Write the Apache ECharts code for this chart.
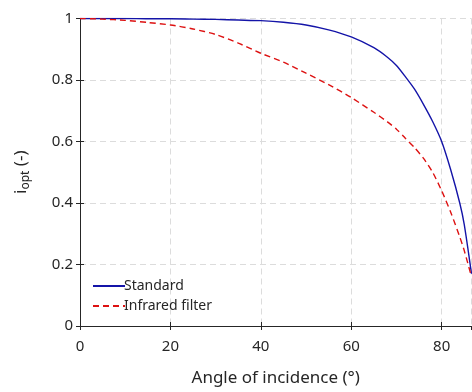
<!DOCTYPE html>
<html>
<head>
<meta charset="utf-8">
<script src="https://cdn.jsdelivr.net/npm/echarts@6/dist/echarts.min.js"></script>
<style>html,body{margin:0;padding:0;background:#fff}#c{width:472px;height:392px}</style>
</head>
<body>
<div id="c"></div>
<script>
var angles = [0,5,10,15,20,25,30,35,40,45,50,55,60,65,68,70,72,74,76,78,80,82,84,85,86.6];
var standardVals = [1,1,1,0.999,0.999,0.998,0.997,0.995,0.993,0.988,0.979,0.963,0.94,0.905,0.874,0.847,0.81,0.77,0.72,0.665,0.6,0.508,0.4,0.33,0.17];
var infraredVals = [1,0.998,0.994,0.987,0.979,0.966,0.948,0.92,0.887,0.858,0.822,0.785,0.743,0.695,0.664,0.64,0.61,0.58,0.545,0.5,0.44,0.37,0.29,0.245,0.16];
var xTicks = [0,20,40,60,80];
var yTicks = [0,0.2,0.4,0.6,0.8,1];
var seriesNames = ['Standard','Infrared filter'];

function pairs(xs, ys){ return xs.map(function(x,i){return [x, ys[i]];}); }

var FONT = 'Noto Sans';
var axisColor = '#262626';
var gridLine = {show:true, lineStyle:{color:'#dcdcdc', type:[6,4], width:1}};

var chart = echarts.init(document.getElementById('c'), null, {renderer:'canvas'});
chart.setOption({
  animation:false,
  backgroundColor:'#fff',
  textStyle:{fontFamily:FONT},
  grid:{left:80, right:0.5, top:18.5, bottom:66, containLabel:false},
  legend:{
    orient:'vertical', left:87, top:274, itemWidth:32, itemHeight:10, itemGap:6,
    itemStyle:{opacity:0},
    textStyle:{fontSize:14, color:axisColor, fontFamily:FONT, padding:[0,0,0,-6]},
    data:seriesNames
  },
  xAxis:[{
    type:'value', min:0, max:86.6, interval:20,
    name:'Angle of incidence (°)', nameLocation:'middle', nameGap:44,
    nameTextStyle:{fontSize:17, color:axisColor, fontFamily:FONT},
    axisLine:{show:true, lineStyle:{color:axisColor}},
    axisTick:{show:true, inside:true, length:4, lineStyle:{color:axisColor}},
    axisLabel:{fontSize:15, color:axisColor, margin:13, showMaxLabel:false,
      formatter:function(v){return xTicks.indexOf(v)>=0 ? String(v) : '';}},
    splitLine:gridLine
  },{
    type:'value', position:'top', min:0, max:86.6, interval:20,
    axisLine:{show:true, lineStyle:{color:axisColor}},
    axisTick:{show:true, inside:true, length:4, lineStyle:{color:axisColor}},
    axisLabel:{show:false}, splitLine:{show:false}
  }],
  yAxis:[{
    type:'value', min:0, max:1, interval:0.2,
    name:'{i|i}{s|opt}{i| (-)}', nameLocation:'middle', nameGap:48, nameRotate:90,
    nameTextStyle:{rich:{
      i:{fontSize:17, color:axisColor, fontFamily:FONT},
      s:{fontSize:12, color:axisColor, fontFamily:FONT, verticalAlign:'bottom', padding:[10,0,0,0]}
    }},
    axisLine:{show:true, lineStyle:{color:axisColor}},
    axisTick:{show:true, inside:true, length:4, lineStyle:{color:axisColor}},
    axisLabel:{fontSize:15, color:axisColor, margin:7,
      formatter:function(v){var r=Math.round(v*10)/10; return String(r);}},
    splitLine:gridLine
  },{
    type:'value', position:'right', min:0, max:1, interval:0.2,
    axisLine:{show:true, lineStyle:{color:axisColor}},
    axisTick:{show:true, inside:true, length:4, lineStyle:{color:axisColor}},
    axisLabel:{show:false}, splitLine:{show:false}
  }],
  series:[{
    name:seriesNames[0], type:'line', data:pairs(angles, standardVals),
    symbol:'none', smooth:0.25, xAxisIndex:0, yAxisIndex:0,
    lineStyle:{color:'#1414a8', width:1.4}, itemStyle:{color:'#1414a8'}
  },{
    name:seriesNames[1], type:'line', data:pairs(angles, infraredVals),
    symbol:'none', smooth:0.25, xAxisIndex:0, yAxisIndex:0,
    lineStyle:{color:'#dd1111', width:1.4, type:[6,4]}, itemStyle:{color:'#dd1111'}
  }]
});
</script>
</body>
</html>
